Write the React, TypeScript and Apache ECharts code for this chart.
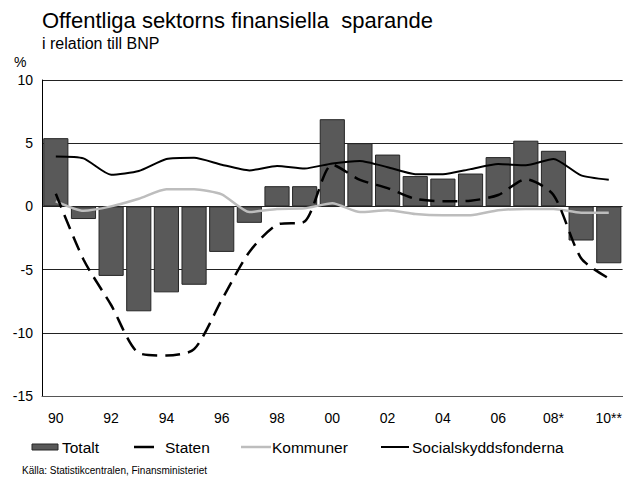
import React, { useEffect, useRef } from "react";
import * as echarts from "echarts";

const years = ["90","91","92","93","94","95","96","97","98","99","00","01","02","03","04","05","06","07","08*","09","10**"];
const shownLabels = ["90","92","94","96","98","00","02","04","06","08*","10**"];
const totalt = [5.4, -1.0, -5.5, -8.3, -6.8, -6.2, -3.6, -1.3, 1.6, 1.6, 6.9, 5.0, 4.1, 2.4, 2.2, 2.6, 3.9, 5.2, 4.4, -2.7, -4.5];
const staten = [1.0, -4.2, -7.8, -11.6, -11.8, -11.3, -7.4, -3.6, -1.45, -1.2, 3.3, 2.1, 1.45, 0.6, 0.4, 0.45, 0.9, 2.15, 0.9, -4.1, -5.7];
const kommuner = [0.4, -0.35, 0.0, 0.6, 1.35, 1.35, 0.95, -0.45, -0.2, -0.15, 0.25, -0.45, -0.3, -0.6, -0.7, -0.7, -0.3, -0.2, -0.2, -0.5, -0.5];
const social = [3.95, 3.8, 2.5, 2.8, 3.75, 3.85, 3.3, 2.85, 3.2, 3.0, 3.4, 3.6, 3.1, 2.55, 2.55, 2.95, 3.35, 3.25, 3.75, 2.45, 2.1];

const FONT = "'Liberation Sans', Arial, Helvetica, sans-serif";
const LEG_Y = 447;

export default function App() {
  const ref = useRef<HTMLDivElement>(null);
  useEffect(() => {
    if (!ref.current) return;
    const chart = echarts.init(ref.current, null, { renderer: "svg" });
    chart.setOption({
      animation: false,
      backgroundColor: "#fff",
      textStyle: { fontFamily: FONT },
      grid: { left: 42, right: 2, top: 80, bottom: 84, containLabel: false },
      xAxis: {
        type: "category",
        data: years,
        position: "bottom",
        axisLine: { onZero: false, lineStyle: { color: "#555", width: 1 } },
        axisTick: { show: false },
        axisLabel: {
          interval: 0,
          color: "#000",
          fontSize: 14,
          fontFamily: FONT,
          margin: 15,
          formatter: (v: string) => (shownLabels.includes(v) ? v : ""),
        },
        splitLine: { show: false },
      },
      yAxis: {
        type: "value",
        min: -15,
        max: 10,
        interval: 5,
        axisLine: { show: true, lineStyle: { color: "#000", width: 1 } },
        axisTick: { show: false },
        axisLabel: { color: "#000", fontSize: 14, fontFamily: FONT, margin: 9 },
        splitLine: { show: true, lineStyle: { color: "#222", width: 1 } },
      },
      series: [
        {
          name: "Totalt",
          type: "bar",
          data: totalt,
          barCategoryGap: "9%",
          itemStyle: { color: "#595959", borderColor: "#262626", borderWidth: 1 },
          z: 1,
        },
        {
          name: "Kommuner",
          type: "line",
          data: kommuner,
          symbol: "none",
          smooth: 0.2,
          lineStyle: { color: "#bdbdbd", width: 2.5 },
          z: 2,
        },
        {
          name: "Staten",
          type: "line",
          data: staten,
          symbol: "none",
          smooth: 0.25,
          lineStyle: { color: "#000", width: 2.5, type: [15, 8] },
          z: 3,
        },
        {
          name: "Socialskyddsfonderna",
          type: "line",
          data: social,
          symbol: "none",
          smooth: 0.2,
          lineStyle: { color: "#000", width: 2 },
          z: 4,
        },
      ],
      graphic: [
        { type: "text", left: 42, top: 9, style: { text: "Offentliga sektorns finansiella  sparande", font: `22px ${FONT}`, fill: "#000" } },
        { type: "text", left: 42, top: 35, style: { text: "i relation till BNP", font: `16px ${FONT}`, fill: "#000" } },
        { type: "text", left: 14, top: 55, style: { text: "%", font: `14px ${FONT}`, fill: "#000" } },
        { type: "rect", shape: { x: 32, y: LEG_Y - 3, width: 26, height: 6 }, style: { fill: "#595959", stroke: "#262626", lineWidth: 1 } },
        { type: "text", x: 62, y: LEG_Y, style: { text: "Totalt", font: `15.5px ${FONT}`, fill: "#000", textVerticalAlign: "middle" } },
        { type: "line", shape: { x1: 134, y1: LEG_Y, x2: 154, y2: LEG_Y }, style: { stroke: "#000", lineWidth: 2.5 } },
        { type: "text", x: 165, y: LEG_Y, style: { text: "Staten", font: `15.5px ${FONT}`, fill: "#000", textVerticalAlign: "middle" } },
        { type: "line", shape: { x1: 241, y1: LEG_Y, x2: 271, y2: LEG_Y }, style: { stroke: "#bdbdbd", lineWidth: 2.5 } },
        { type: "text", x: 272, y: LEG_Y, style: { text: "Kommuner", font: `15.5px ${FONT}`, fill: "#000", textVerticalAlign: "middle" } },
        { type: "line", shape: { x1: 381, y1: LEG_Y, x2: 409, y2: LEG_Y }, style: { stroke: "#000", lineWidth: 2 } },
        { type: "text", x: 412, y: LEG_Y, style: { text: "Socialskyddsfonderna", font: `15.5px ${FONT}`, fill: "#000", textVerticalAlign: "middle" } },
        { type: "text", x: 22, y: 470, style: { text: "Källa: Statistikcentralen, Finansministeriet", font: `10px ${FONT}`, fill: "#000", textVerticalAlign: "middle" } },
      ],
    });
    return () => chart.dispose();
  }, []);
  return <div ref={ref} style={{ width: 625, height: 480, position: "absolute", left: 0, top: 0 }} />;
}
